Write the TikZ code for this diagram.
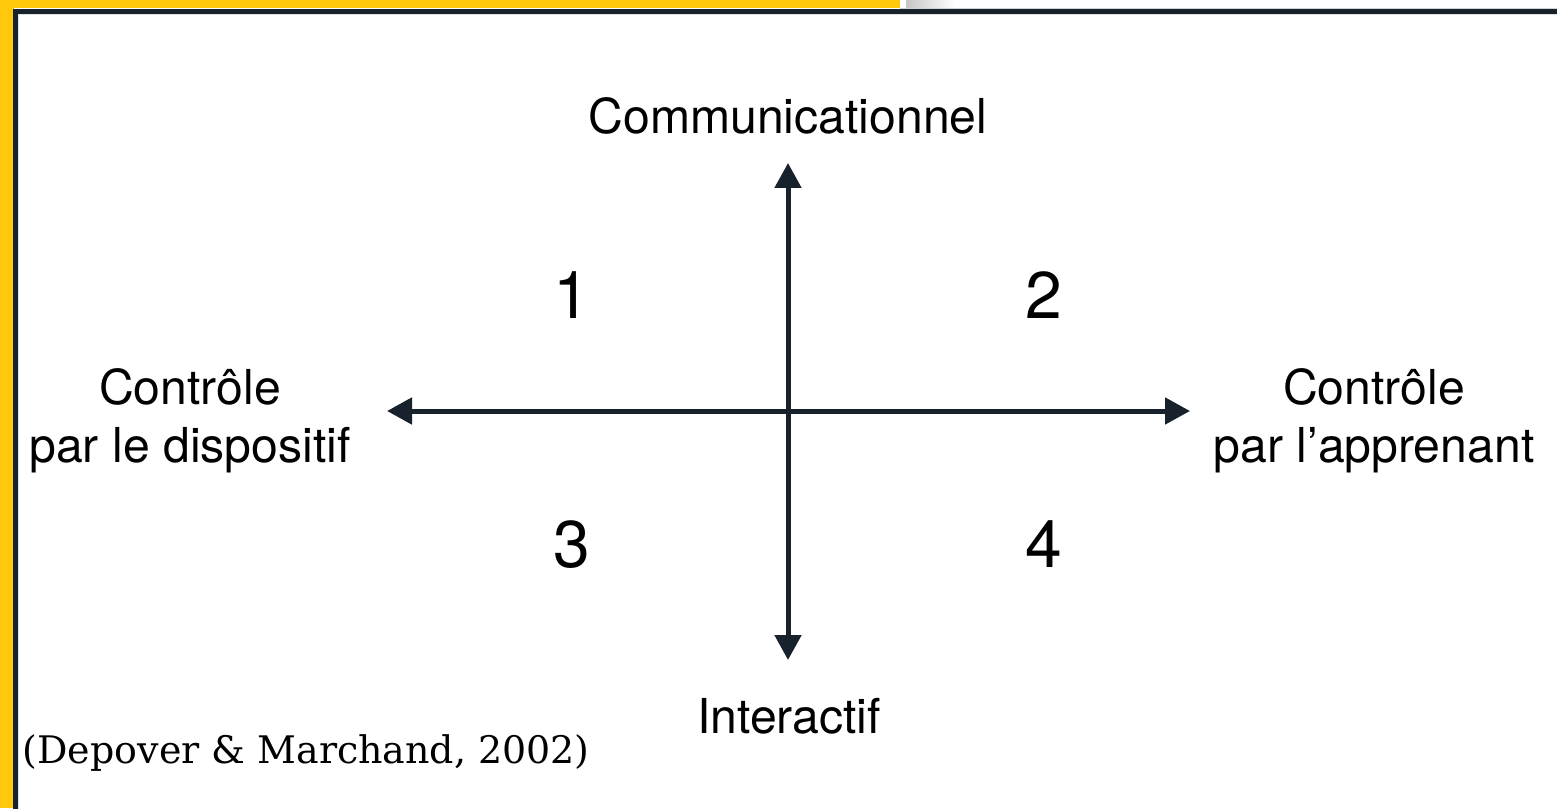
\documentclass[tikz,border=0pt]{standalone}
\usepackage{fontspec}
\setmainfont{TeX Gyre Heros}
\newfontfamily\citefont{DejaVu Serif}
\usepackage{tikz}
\usetikzlibrary{arrows.meta}
\usetikzlibrary{positioning}

\definecolor{giallo}{RGB}{255,200,10}
\definecolor{blunotte}{RGB}{24,34,45}

\tikzset{
    asse/.style={blunotte, line width=0.05cm, {Triangle[length=0.25cm,width=0.26cm]}-{Triangle[length=0.25cm,width=0.26cm]}},
    etichetta/.style={font={\fontsize{13.7}{16.5}\selectfont}, align=center, inner sep=0pt},
    quadrante/.style={font={\fontsize{18.8}{22}\selectfont}, inner sep=0pt, anchor=base},
}

\begin{document}
\begin{tikzpicture}
\useasboundingbox (0, 0) rectangle (15.57, 8.08);

% cornice
\fill[giallo] (0, 0) rectangle (0.14, 8.08);
\fill[giallo] (0, 8.0) rectangle (9.0, 8.08);
\shade[left color=gray!45, right color=white] (9.06, 7.99) rectangle (9.55, 8.08);
\draw[gray!35, line width=0.01cm] (9.0, 7.995) -- (15.6, 7.995);
\draw[blunotte, line width=0.05cm] (0.155, -0.2) -- (0.155, 7.965) -- (15.8, 7.965);
\draw[gray!25, line width=0.01cm] (0.185, -0.2) -- (0.185, 7.935) -- (15.8, 7.935);

% assi
\coordinate (centro) at (7.88, 3.97);
\coordinate (alto) at (7.88, 6.45);
\coordinate (basso) at (7.88, 1.48);
\coordinate (sinistra) at (3.87, 3.97);
\coordinate (destra) at (11.90, 3.97);
\draw[asse] (basso) -- (alto);
\draw[asse] (sinistra) -- (destra);

% poli
\node[etichetta, anchor=base] (comunicazione) at (7.88, 6.74) {Communicationnel};
\node[etichetta, anchor=base] (interazione) at (7.89, 0.75) {Interactif};
\node[etichetta] (dispositivo) at (1.90, 3.87) {Contrôle\\par le dispositif};
\node[etichetta] (discente) at (13.74, 3.87) {Contrôle\\par l’apprenant};

% quadranti
\node[quadrante] (q1) at (5.72, 4.89) {1};
\node[quadrante] (q2) at (10.44, 4.89) {2};
\node[quadrante] (q3) at (5.72, 2.41) {3};
\node[quadrante] (q4) at (10.44, 2.41) {4};

% fonte
\node[anchor=base west, inner sep=0pt, font={\citefont\fontsize{10.8}{13}\selectfont}] (fonte) at (0.22, 0.45) {(Depover \& Marchand, 2002)};
\end{tikzpicture}
\end{document}
